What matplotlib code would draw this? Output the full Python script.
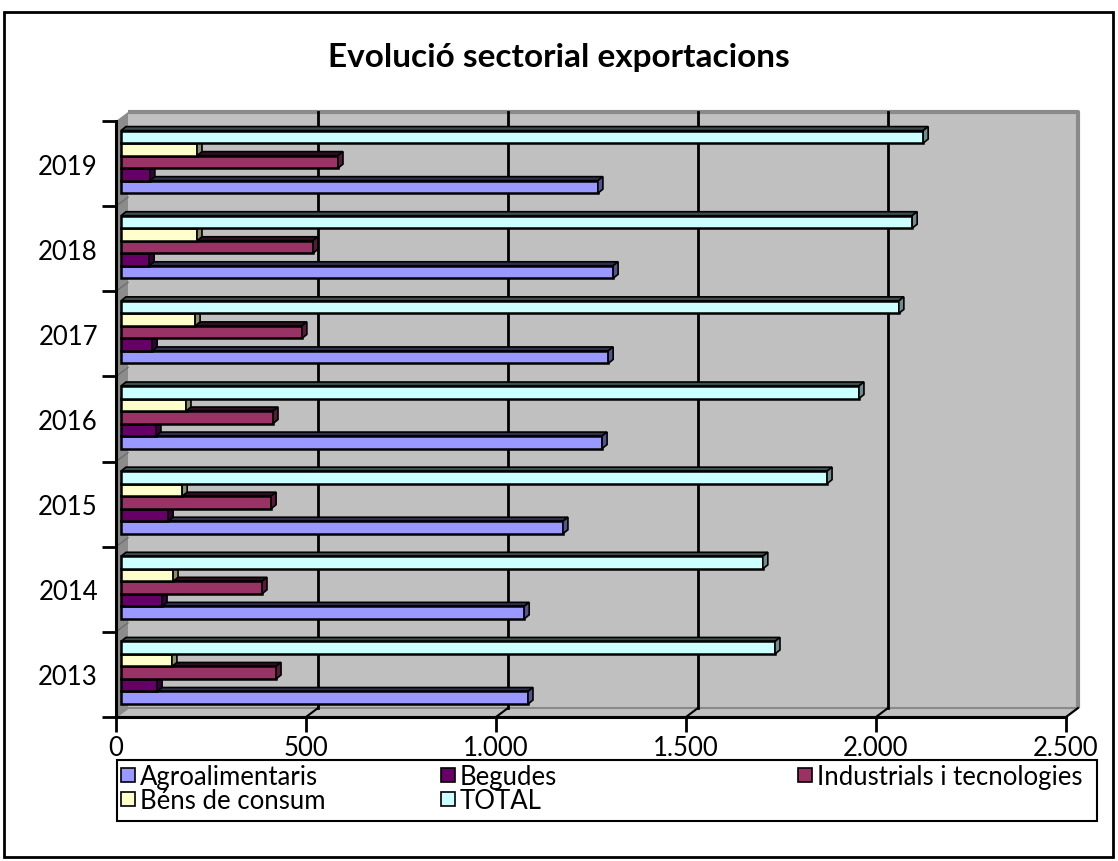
import matplotlib
matplotlib.use("Agg")
import matplotlib.pyplot as plt
from matplotlib.patches import Polygon, Rectangle
from matplotlib.transforms import ScaledTranslation
import numpy as np

# ---------------- data ----------------
years = ['2013', '2014', '2015', '2016', '2017', '2018', '2019']
series_names = ['Agroalimentaris', 'Begudes', 'Industrials i tecnologies',
                'Béns de consum', 'TOTAL']
agroalimentaris = [1071, 1061, 1163, 1266, 1282, 1295, 1255]
begudes = [95, 108, 124, 92, 82, 74, 76]
industrials = [408, 371, 395, 400, 476, 505, 571]
bens_consum = [134, 137, 161, 171, 195, 200, 200]
total = [1721, 1689, 1858, 1942, 2047, 2082, 2111]
x_ticks = [0, 500, 1000, 1500, 2000, 2500]
x_tick_labels = ['0', '500', '1.000', '1.500', '2.000', '2.500']
title = 'Evolució sectorial exportacions'

series_values = [agroalimentaris, begudes, industrials, bens_consum, total]
colors = ['#9999FF', '#660066', '#993366', '#FFFFCC', '#CCFFFF']

FONT = ['Lato', 'DejaVu Sans']
plt.rcParams['font.family'] = FONT

W, H = 1118, 862
fig = plt.figure(figsize=(W / 100, H / 100), dpi=100)

def fx(px):
    return px / W

def fy(py):
    return 1 - py / H

# outer frame
fig.patches.append(Rectangle((fx(4), fy(858)), fx(1113) - fx(4), fy(13) - fy(858),
                             transform=fig.transFigure, fill=False,
                             edgecolor='black', linewidth=2))

# front plane of the 3D box
L, R, T, B = 116, 1066, 122, 718
ax = fig.add_axes([fx(L), fy(B), fx(R) - fx(L), fy(T) - fy(B)])
ax.set_xlim(0, 2500)
ax.set_ylim(0, len(years))
ax.set_autoscale_on(False)
ax.patch.set_visible(False)

ux = 2500 / (R - L)          # data units per pixel (x)
uy = len(years) / (B - T)    # data units per pixel (y)

# depth of walls
Dx, Dy = 12 * ux, 9 * uy
xmax = 2500

wall_col = '#C0C0C0'
# back wall
ax.add_patch(Rectangle((Dx, Dy), xmax, len(years), facecolor=wall_col,
                       edgecolor='none', clip_on=False, zorder=0))
ax.plot([Dx, Dx + xmax, Dx + xmax], [Dy + len(years), Dy + len(years), Dy],
        color='#8A8A8A', lw=3, clip_on=False, zorder=0.5, solid_capstyle='butt')
# left wall
ax.add_patch(Polygon([(0, 0), (Dx, Dy), (Dx, Dy + len(years)), (0, len(years))],
                     closed=True, facecolor='#8C8C8C', edgecolor='none',
                     clip_on=False, zorder=0.2))
# floor
ax.add_patch(Polygon([(0, 0), (xmax, 0), (xmax + Dx, Dy), (Dx, Dy)],
                     closed=True, facecolor=wall_col, edgecolor='#8A8A8A',
                     lw=1.5, clip_on=False, zorder=0.2))
# left-wall lines at category boundaries
for k in range(1, len(years)):
    ax.plot([0, Dx], [k, k + Dy], color='#6E6E6E', lw=1, clip_on=False, zorder=0.3)

# gridlines on back wall and floor
for v in x_ticks[1:-1]:
    ax.plot([v + Dx, v + Dx], [Dy, Dy + len(years)], color='black', lw=2,
            clip_on=False, zorder=0.6)
for v in x_ticks[1:]:
    ax.plot([v, v + Dx], [0, Dy], color='black', lw=1.5, clip_on=False, zorder=0.6)

# ---------------- bars ----------------
bar_tr = ax.transData + ScaledTranslation(5 / 100, 0, fig.dpi_scale_trans)
n = len(series_names)
h = 0.147
dx, dy = 5 * ux, 4 * uy
centers = np.arange(len(years)) + 0.5 + 0.02


def shade(c, f):
    r, g, b = matplotlib.colors.to_rgb(c)
    return (r * f, g * f, b * f)


for i in range(len(years)):
    for s in range(n):
        v = series_values[s][i]
        y0 = centers[i] + (s - n / 2) * h
        y1 = y0 + h
        col = colors[s]
        ax.barh(y0, v, height=h, left=0, align='edge', color=col,
                edgecolor='black', linewidth=1.8, transform=bar_tr,
                clip_on=False, zorder=2 + s * 0.1 + i * 0.01)
        ax.add_patch(Polygon([(0, y1), (v, y1), (v + dx, y1 + dy), (dx, y1 + dy)],
                             closed=True, facecolor=shade(col, 0.3), edgecolor='black',
                             lw=1.2, transform=bar_tr, clip_on=False,
                             zorder=1.99 + s * 0.1 + i * 0.01))
        ax.add_patch(Polygon([(v, y0), (v + dx, y0 + dy), (v + dx, y1 + dy), (v, y1)],
                             closed=True, facecolor=shade(col, 0.55), edgecolor='black',
                             lw=1.2, transform=bar_tr, clip_on=False,
                             zorder=2.005 + s * 0.1 + i * 0.01))

# ---------------- axes ----------------
for side in ['top', 'right']:
    ax.spines[side].set_visible(False)
ax.spines['left'].set_linewidth(2.2)
ax.spines['bottom'].set_linewidth(2.2)
ax.spines['left'].set_zorder(5)
ax.spines['bottom'].set_zorder(5)

ax.set_xticks(x_ticks)
ax.set_xticklabels(x_tick_labels, fontsize=18.5)
ax.tick_params(axis='x', direction='out', length=11, width=2, pad=2)
ax.set_yticks(np.arange(len(years) + 1))
ax.set_yticklabels([])
ax.set_yticks(np.arange(len(years)) + 0.5, minor=True)
ax.set_yticklabels(years, minor=True, fontsize=18.5)
ax.tick_params(axis='y', which='major', direction='out', length=10, width=2)
ax.tick_params(axis='y', which='minor', length=0, pad=13)

# ---------------- title ----------------
fig.text(0.5, fy(57), title, ha='center', va='center', fontsize=24,
         fontweight='bold')

# ---------------- legend ----------------
fig.patches.append(Rectangle((fx(117), fy(822)), fx(1097) - fx(117), fy(761) - fy(822),
                             transform=fig.transFigure, fill=False,
                             edgecolor='black', linewidth=1.5))
leg_pos = [(121, 778), (441, 778), (798, 778), (121, 802), (441, 802)]
for s in range(n):
    px, py = leg_pos[s]
    fig.patches.append(Rectangle((fx(px), fy(py + 5)), fx(14), 14 / H,
                                 transform=fig.transFigure, facecolor=colors[s],
                                 edgecolor='black', linewidth=1.2))
    fig.text(fx(px + 19), fy(py), series_names[s], ha='left', va='center',
             fontsize=18.5)

fig.savefig('out.png', dpi=100)
